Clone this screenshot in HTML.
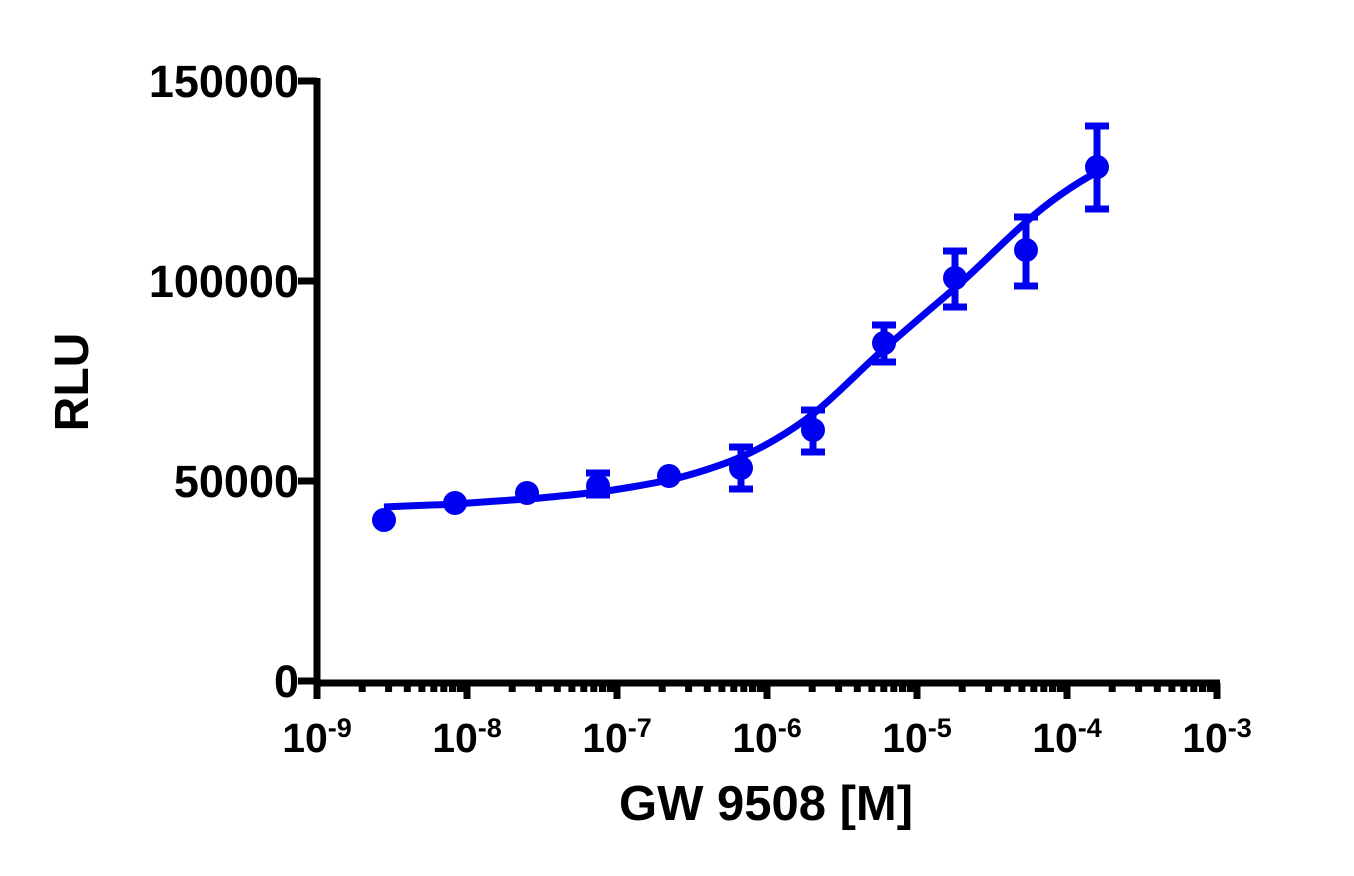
<!DOCTYPE html>
<html><head><style>body{margin:0;background:#fff}</style></head><body>
<svg width="1354" height="871" xmlns="http://www.w3.org/2000/svg" font-family="Liberation Sans, Arial, sans-serif" font-weight="bold">
<g stroke="#000" stroke-width="7" fill="none">
<line x1="317" y1="78" x2="317" y2="686"/>
<line x1="314" y1="683" x2="1220" y2="683"/>
<line x1="298" y1="81" x2="317" y2="81"/>
<line x1="298" y1="281" x2="317" y2="281"/>
<line x1="298" y1="481" x2="317" y2="481"/>
<line x1="298" y1="681" x2="317" y2="681"/>
<path d="M317 683V699M467 683V699M617 683V699M767 683V699M917 683V699M1067 683V699M1217 683V699"/>
<path id="mn" d="M362.2 683V692M388.6 683V692M407.3 683V692M421.9 683V692M433.8 683V692M443.8 683V692M452.5 683V692M460.2 683V692"/>
<use href="#mn" x="150"/><use href="#mn" x="300"/><use href="#mn" x="450"/><use href="#mn" x="600"/><use href="#mn" x="750"/>
</g>
<g font-size="45" text-anchor="end">
<text x="299" y="97">150000</text>
<text x="299" y="297">100000</text>
<text x="299" y="497">50000</text>
<text x="299" y="697">0</text>
</g>
<g font-size="41" text-anchor="middle">
<text x="317" y="752">10<tspan font-size="27" dy="-15">-9</tspan></text>
<text x="467" y="752">10<tspan font-size="27" dy="-15">-8</tspan></text>
<text x="617" y="752">10<tspan font-size="27" dy="-15">-7</tspan></text>
<text x="767" y="752">10<tspan font-size="27" dy="-15">-6</tspan></text>
<text x="917" y="752">10<tspan font-size="27" dy="-15">-5</tspan></text>
<text x="1067" y="752">10<tspan font-size="27" dy="-15">-4</tspan></text>
<text x="1217" y="752">10<tspan font-size="27" dy="-15">-3</tspan></text>
</g>
<text x="766" y="820" font-size="49" text-anchor="middle">GW 9508 [M]</text>
<text transform="translate(88,382) rotate(-90)" font-size="48" text-anchor="middle">RLU</text>
<path d="M384 507 C420 505 440 505 455 504 S510 500 527 499 S580 494 598 492 S650 484 669 480 S720 466 741 457 S790 432 813 414 S860 370 884 349 S935 305 955 288 S1000 245 1026 222 S1075 184 1097 172" stroke="#0000f0" stroke-width="7" fill="none"/>
<g stroke="#0000f0" stroke-width="7" fill="none">
<path d="M598 473V495M586 473H610M586 495H610"/>
<path d="M741 447V489M729 447H753M729 489H753"/>
<path d="M813 410V452M801 410H825M801 452H825"/>
<path d="M884 325V362M872 325H896M872 362H896"/>
<path d="M955 251V307M943 251H967M943 307H967"/>
<path d="M1026 217V286M1014 217H1038M1014 286H1038"/>
<path d="M1097 126V209M1085 126H1109M1085 209H1109"/>
</g>
<g fill="#0000f0">
<circle cx="384" cy="520" r="12"/><circle cx="455" cy="503" r="12"/><circle cx="527" cy="493" r="12"/>
<circle cx="598" cy="486" r="12"/><circle cx="669" cy="476" r="12"/><circle cx="741" cy="468" r="12"/>
<circle cx="813" cy="430" r="12"/><circle cx="884" cy="343" r="12"/><circle cx="955" cy="278" r="12"/>
<circle cx="1026" cy="250" r="12"/><circle cx="1097" cy="167" r="12"/>
</g>
</svg>
</body></html>
